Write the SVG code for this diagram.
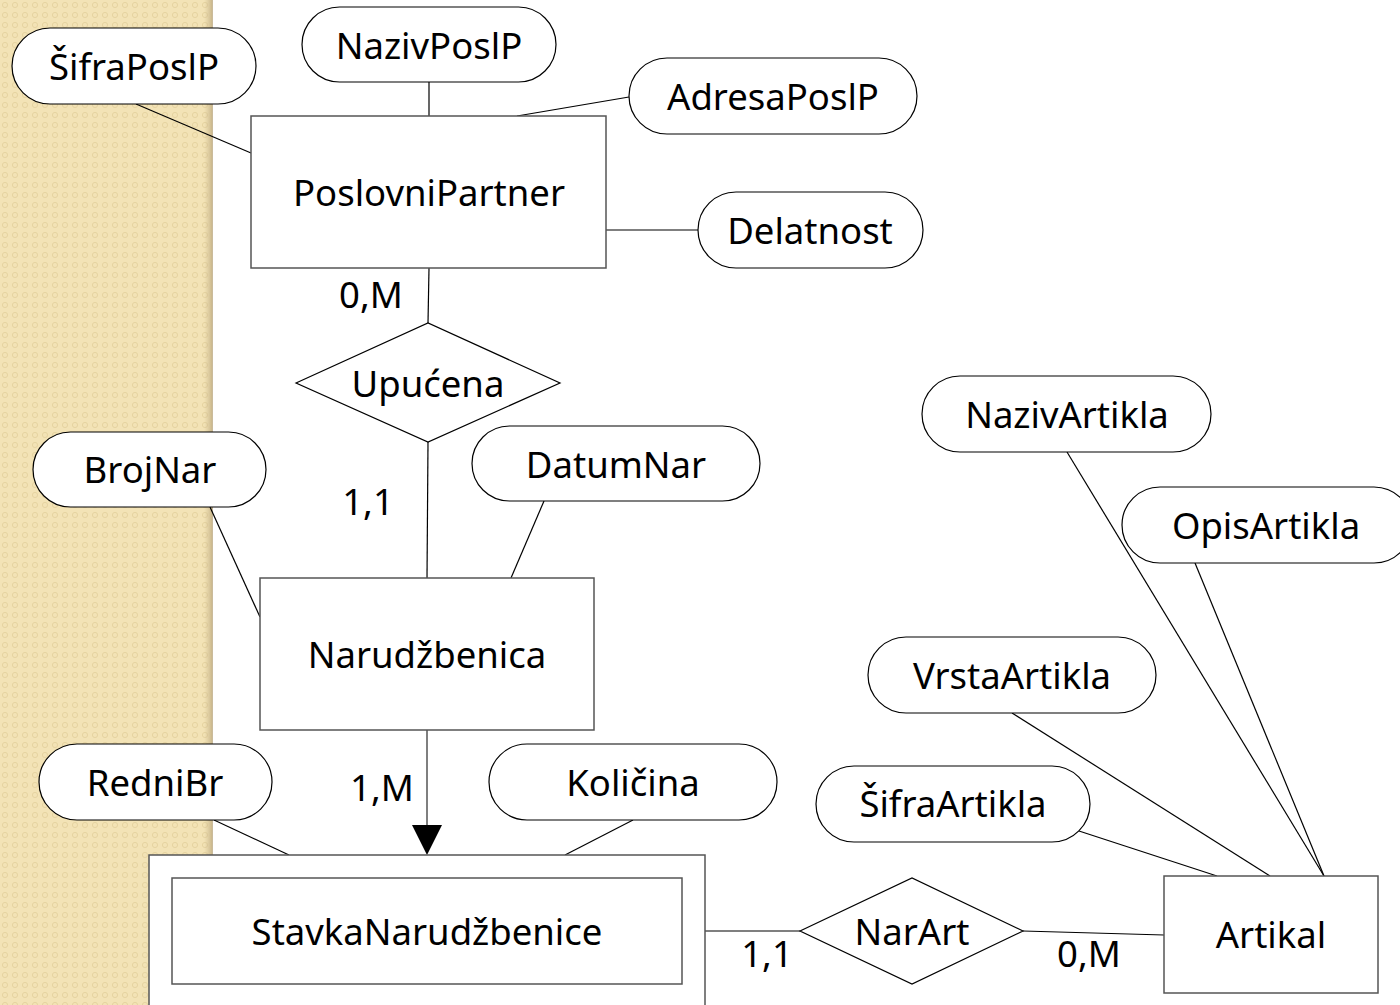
<svg xmlns="http://www.w3.org/2000/svg" width="1400" height="1005" viewBox="0 0 1400 1005">
<defs>
<pattern id="dots" x="0" y="0" width="10" height="10" patternUnits="userSpaceOnUse">
<rect width="10" height="10" fill="#f3e3b6"/>
<circle cx="5" cy="5" r="2.6" fill="none" stroke="#e6d3a0" stroke-width="1"/>
</pattern>
<linearGradient id="shadow" x1="0" y1="0" x2="1" y2="0">
<stop offset="0" stop-color="#c9b68a" stop-opacity="0"/>
<stop offset="1" stop-color="#b8a47a" stop-opacity="0.8"/>
</linearGradient>
</defs>
<style>
.bg{fill:#ffffff}
.attr{fill:#ffffff;stroke:#000;stroke-width:1.2}
.ent{fill:#ffffff;stroke:#555;stroke-width:1.5}
.rel{fill:#ffffff;stroke:#000;stroke-width:1.2}
.ln{stroke:#000;stroke-width:1.2;fill:none}
text{font-family:"Noto Sans","Open Sans","Liberation Sans",sans-serif;font-size:36.5px;fill:#000;text-anchor:middle;dominant-baseline:central}
</style>
<rect class="bg" x="0" y="0" width="1400" height="1005"/>
<rect x="0" y="0" width="212" height="1005" fill="url(#dots)"/>
<rect x="204" y="0" width="9" height="1005" fill="url(#shadow)"/>

<g id="connectors">
<line class="ln" x1="136" y1="104" x2="251" y2="153"/>
<line class="ln" x1="429" y1="82" x2="429" y2="116"/>
<line class="ln" x1="629" y1="97" x2="517" y2="116"/>
<line class="ln" x1="698" y1="230" x2="606" y2="230"/>
<line class="ln" x1="429" y1="268" x2="428" y2="323"/>
<line class="ln" x1="428" y1="442" x2="427" y2="578"/>
<line class="ln" x1="210" y1="507" x2="260" y2="617"/>
<line class="ln" x1="544" y1="501" x2="511" y2="578"/>
<line x1="427" y1="730" x2="427" y2="826" stroke="#555" stroke-width="1.5"/>
<path d="M412,825 L442,825 L427,855 Z" fill="#000"/>
<line class="ln" x1="214" y1="820" x2="289" y2="855"/>
<line class="ln" x1="633" y1="820" x2="565" y2="855"/>
<line class="ln" x1="705" y1="931" x2="800" y2="931"/>
<line class="ln" x1="1023" y1="931" x2="1164" y2="935"/>
<line class="ln" x1="1067" y1="452" x2="1324" y2="876"/>
<line class="ln" x1="1195" y1="563" x2="1324" y2="876"/>
<line class="ln" x1="1012" y1="713" x2="1270" y2="876"/>
<line class="ln" x1="1079" y1="831" x2="1217" y2="876"/>
</g>

<g id="SifraPoslP"><rect class="attr" x="12" y="28" width="244" height="76" rx="38"/><text x="134" y="66">ŠifraPoslP</text></g>
<g id="NazivPoslP"><rect class="attr" x="302" y="7" width="254" height="75" rx="37.5"/><text x="429" y="45">NazivPoslP</text></g>
<g id="AdresaPoslP"><rect class="attr" x="629" y="58" width="288" height="76" rx="38"/><text x="773" y="96">AdresaPoslP</text></g>
<g id="Delatnost"><rect class="attr" x="698" y="192" width="225" height="76" rx="38"/><text x="810" y="230">Delatnost</text></g>
<g id="PoslovniPartner"><rect class="ent" x="251" y="116" width="355" height="152"/><text x="429" y="192">PoslovniPartner</text></g>
<text x="371" y="294">0,M</text>
<g id="Upucena"><polygon class="rel" points="296,383 428,323 560,383 428,442"/><text x="428" y="383">Upućena</text></g>
<text x="368" y="501">1,1</text>
<g id="BrojNar"><rect class="attr" x="33" y="432" width="233" height="75" rx="37.5"/><text x="150" y="469">BrojNar</text></g>
<g id="DatumNar"><rect class="attr" x="472" y="426" width="288" height="75" rx="37.5"/><text x="616" y="464">DatumNar</text></g>
<g id="Narudzbenica"><rect class="ent" x="260" y="578" width="334" height="152"/><text x="427" y="654">Narudžbenica</text></g>
<g id="RedniBr"><rect class="attr" x="39" y="744" width="233" height="76" rx="38"/><text x="155" y="782">RedniBr</text></g>
<g id="Kolicina"><rect class="attr" x="489" y="744" width="288" height="76" rx="38"/><text x="633" y="782">Količina</text></g>
<text x="382" y="787">1,M</text>
<g id="StavkaNarudzbenice"><rect class="ent" x="149" y="855" width="556" height="160"/><rect class="ent" x="172" y="878" width="510" height="106"/><text x="427" y="931">StavkaNarudžbenice</text></g>
<g id="NarArt"><polygon class="rel" points="800,931 912,878 1023,931 912,984"/><text x="912" y="931">NarArt</text></g>
<text x="767" y="953">1,1</text>
<text x="1089" y="953">0,M</text>
<g id="Artikal"><rect class="ent" x="1164" y="876" width="214" height="117"/><text x="1271" y="934">Artikal</text></g>
<g id="NazivArtikla"><rect class="attr" x="922" y="376" width="289" height="76" rx="38"/><text x="1067" y="414">NazivArtikla</text></g>
<g id="OpisArtikla"><rect class="attr" x="1122" y="487" width="290" height="76" rx="38"/><text x="1266" y="525">OpisArtikla</text></g>
<g id="VrstaArtikla"><rect class="attr" x="868" y="637" width="288" height="76" rx="38"/><text x="1012" y="675">VrstaArtikla</text></g>
<g id="SifraArtikla"><rect class="attr" x="816" y="766" width="274" height="76" rx="38"/><text x="953" y="803">ŠifraArtikla</text></g>
</svg>
